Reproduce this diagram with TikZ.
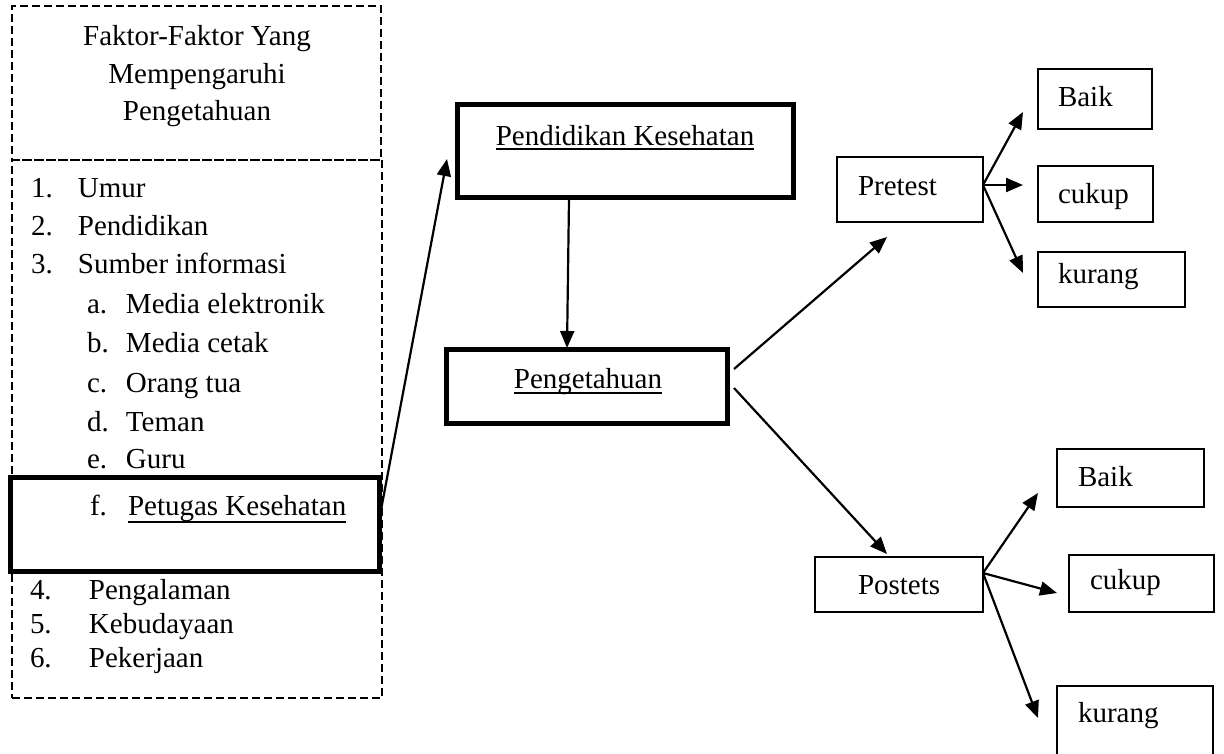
\documentclass[tikz,border=0pt]{standalone}
\usepackage{fontspec}
\setmainfont{Liberation Serif}
\usetikzlibrary{arrows.meta}
\begin{document}
\begin{tikzpicture}[x=1pt,y=-1pt,
  txt/.style={inner sep=0pt, outer sep=0pt, font=\fontsize{29}{38}\selectfont},
  thinbox/.style={draw, line width=1.5pt, inner sep=0pt, outer sep=0pt},
  thickbox/.style={draw, line width=5pt, inner sep=0pt, outer sep=0pt},
  dbox/.style={draw, line width=1.4pt, dash pattern=on 8pt off 4pt, inner sep=0pt, outer sep=0pt},
  arr/.style={line width=2.2pt, -{Triangle[length=17pt,width=14pt]}},
  ul/.style={line width=1.5pt}]
\useasboundingbox (0,0) rectangle (1224,753);
\clip (0,0) rectangle (1224,753);

% left dashed boxes
\node[dbox, minimum width=369pt, minimum height=154pt] (head) at (196.5,83) {};
\node[dbox, minimum width=370pt, minimum height=538pt] (list) at (197,429) {};

\node[txt, anchor=base] (h1) at (197,45) {Faktor-Faktor Yang};
\node[txt, anchor=base] (h2) at (197,83) {Mempengaruhi};
\node[txt, anchor=base] (h3) at (197,120) {Pengetahuan};

\node[txt, anchor=base west] (i1) at (31,197) {\makebox[47pt][l]{1.}Umur};
\node[txt, anchor=base west] (i2) at (31,235) {\makebox[47pt][l]{2.}Pendidikan};
\node[txt, anchor=base west] (i3) at (31,273) {\makebox[47pt][l]{3.}Sumber informasi};
\node[txt, anchor=base west] (ia) at (87,313) {\makebox[39pt][l]{a.}Media elektronik};
\node[txt, anchor=base west] (ib) at (87,352) {\makebox[39pt][l]{b.}Media cetak};
\node[txt, anchor=base west] (ic) at (87,392) {\makebox[39pt][l]{c.}Orang tua};
\node[txt, anchor=base west] (id) at (87,431) {\makebox[39pt][l]{d.}Teman};
\node[txt, anchor=base west] (ie) at (87,468) {\makebox[39pt][l]{e.}Guru};
\node[txt, anchor=base west] (i4) at (30,599) {\makebox[59pt][l]{4.}Pengalaman};
\node[txt, anchor=base west] (i5) at (30,633) {\makebox[59pt][l]{5.}Kebudayaan};
\node[txt, anchor=base west] (i6) at (30,667) {\makebox[59pt][l]{6.}Pekerjaan};

% Petugas Kesehatan box
\node[thickbox, minimum width=369pt, minimum height=94pt] (pet) at (194.5,524) {};
\node[txt, anchor=base west] (ifl) at (90,515) {f.};
\node[txt, anchor=base west] (ift) at (128,515) {Petugas Kesehatan};
\draw[ul] ([yshift=-7pt]ift.base west) -- ([yshift=-7pt]ift.base east);

% Pendidikan Kesehatan
\node[thickbox, minimum width=336pt, minimum height=93pt] (pend) at (625,151) {};
\node[txt, anchor=base] (pendT) at (625,145) {Pendidikan Kesehatan};
\draw[ul] ([yshift=-4pt]pendT.base west) -- ([yshift=-4pt]pendT.base east);

% Pengetahuan
\node[thickbox, minimum width=281pt, minimum height=74pt] (peng) at (587,386) {};
\node[txt, anchor=base] (pengT) at (588,388) {Pengetahuan};
\draw[ul] ([yshift=-5pt]pengT.base west) -- ([yshift=-5pt]pengT.base east);

% Pretest group
\node[thinbox, minimum width=146pt, minimum height=65pt] (pre) at (910,189.5) {};
\node[txt, anchor=base west] (preT) at (858,195) {Pretest};
\node[thinbox, minimum width=114pt, minimum height=60pt] (b1) at (1095,99) {};
\node[txt, anchor=base west] (b1T) at (1058,106) {Baik};
\node[thinbox, minimum width=115pt, minimum height=56pt] (c1) at (1095.5,194) {};
\node[txt, anchor=base west] (c1T) at (1058,203) {cukup};
\node[thinbox, minimum width=147pt, minimum height=55pt] (k1) at (1111.5,279.5) {};
\node[txt, anchor=base west] (k1T) at (1058,283) {kurang};

% Postets group
\node[thinbox, minimum width=168pt, minimum height=55pt] (post) at (899,584.5) {};
\node[txt, anchor=base west] (postT) at (858,594) {Postets};
\node[thinbox, minimum width=147pt, minimum height=58pt] (b2) at (1130.5,478) {};
\node[txt, anchor=base west] (b2T) at (1078,486) {Baik};
\node[thinbox, minimum width=145pt, minimum height=57pt] (c2) at (1141.5,583.5) {};
\node[txt, anchor=base west] (c2T) at (1090,589) {cukup};
\node[thinbox, minimum width=156pt, minimum height=84pt] (k2) at (1135,728) {};
\node[txt, anchor=base west] (k2T) at (1078,722) {kurang};

% connector end points
\coordinate (petOut) at (381,510);
\coordinate (pendIn) at (447,159);
\coordinate (pendOut) at (569,199);
\coordinate (pengIn) at (567,348);
\coordinate (pengUp) at (734,369);
\coordinate (preIn) at (887,237);
\coordinate (pengDn) at (734,388);
\coordinate (postIn) at (887,554);
\coordinate (preB) at (983,185);
\coordinate (b1In) at (1023,112);
\coordinate (c1In) at (1023,185);
\coordinate (k1In) at (1023,273);
\coordinate (postB) at (983,573);
\coordinate (b2In) at (1038,493);
\coordinate (c2In) at (1057,593);
\coordinate (k2In) at (1038,718);

\draw[arr] (petOut) -- (pendIn);
\draw[arr] (pendOut) -- (pengIn);
\draw[arr] (pengUp) -- (preIn);
\draw[arr] (pengDn) -- (postIn);
\draw[arr] (preB) -- (b1In);
\draw[arr] (preB) -- (c1In);
\draw[arr] (preB) -- (k1In);
\draw[arr] (postB) -- (b2In);
\draw[arr] (postB) -- (c2In);
\draw[arr] (postB) -- (k2In);
\end{tikzpicture}
\end{document}
